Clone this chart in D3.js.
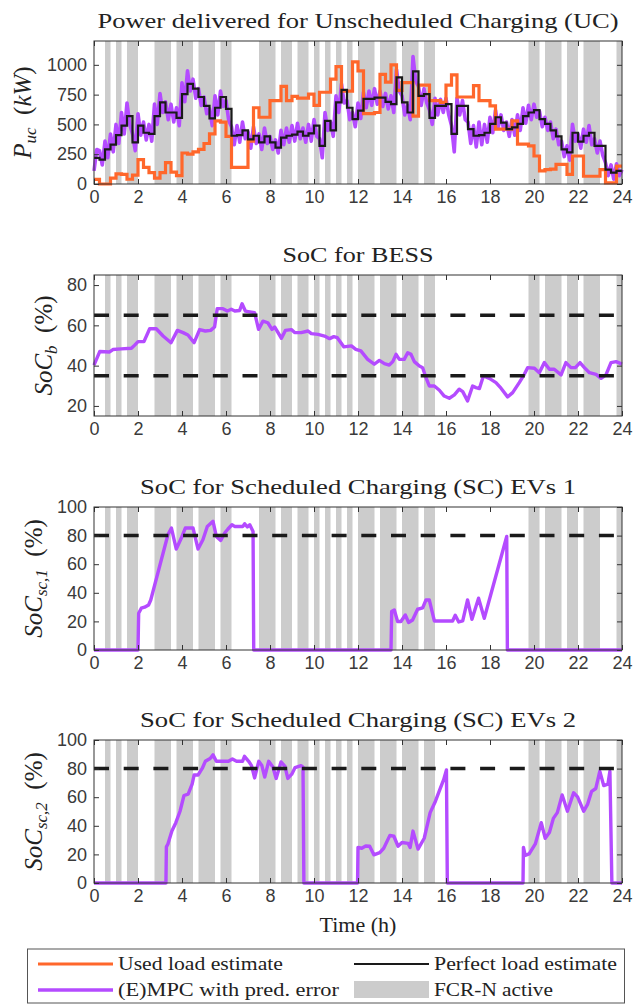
<!DOCTYPE html>
<html>
<head>
<meta charset="utf-8">
<script src="https://cdn.jsdelivr.net/npm/d3@7"></script>
<style>
  body { margin: 0; background: #fff; }
  svg { display: block; }
  .tick text { font-family: "Liberation Sans", Arial, sans-serif; font-size: 18px; fill: #3a3a3a; }
  .serif { font-family: "Liberation Serif", "DejaVu Serif", serif; fill: #222; }
</style>
</head>
<body>
<svg id="chart" width="634" height="1005"></svg>
<script>
// FCR-N active windows (hours)
const fcrBands = [
  [0.5, 0.75], [1.0, 1.25], [1.5, 2.0], [2.75, 3.5], [3.75, 4.5], [4.75, 5.5], [5.75, 6.25],
  [7.5, 8.25], [8.5, 9.0], [9.25, 9.75], [10.0, 10.25], [10.5, 10.75], [11.0, 11.25], [11.5, 11.75],
  [12.0, 12.75], [13.0, 13.75], [14.0, 14.75], [15.0, 15.5],
  [19.75, 20.25], [20.5, 21.25], [21.5, 22.0], [22.25, 23.0], [23.75, 24]
];

const xTicks = [0, 2, 4, 6, 8, 10, 12, 14, 16, 18, 20, 22, 24];

// UC power, one value per quarter hour (kW)
const perfectLoad = [
  220, 205, 290, 330, 410, 490, 570, 350, 490, 430, 420, 570, 685, 600, 600, 555,
  755, 840, 800, 730, 655, 550, 640, 730, 630, 405, 410, 450, 375, 405, 350, 400,
  350, 305, 390, 405, 415, 440, 405, 425, 490, 320, 530, 450, 685, 790, 640, 545,
  615, 715, 715, 725, 725, 690, 670, 895, 685, 600, 945, 740, 755, 555, 655, 655,
  670, 420, 655, 655, 460, 405, 410, 430, 505, 560, 515, 460, 475, 505, 570, 600,
  620, 545, 505, 450, 400, 290, 265, 430, 355, 405, 430, 320, 320, 120, 95, 110
];
const usedLoad = [
  38, 0, 0, 50, 85, 80, 40, 75, 205, 140, 95, 50, 95, 180, 100, 70,
  260, 250, 270, 290, 340, 420, 530, 520, 400, 140, 140, 140, 360, 640, 560, 560,
  700, 700, 820, 700, 735, 720, 720, 755, 660, 770, 770, 880, 985, 780, 780, 1025,
  950, 590, 590, 600, 920, 855, 1000, 785, 850, 850, 570, 830, 830, 700, 700, 685,
  830, 915, 730, 730, 730, 825, 700, 700, 655, 460, 460, 460, 530, 335, 335, 320,
  235, 110, 120, 125, 165, 165, 80, 235, 235, 65, 65, 65, 120, 10, 10, 150
];
// (E)MPC with prediction error, every 7.5 min
const mpcPower = [
  110, 290, 280, 160, 360, 220, 420, 270, 500, 340, 600, 420, 680, 500, 420, 280,
  590, 410, 520, 370, 500, 360, 670, 500, 760, 600, 690, 540, 670, 520, 640, 490,
  850, 690, 950, 780, 880, 720, 800, 660, 730, 590, 630, 490, 740, 580, 780, 650,
  700, 530, 480, 330, 490, 350, 520, 380, 440, 300, 480, 340, 420, 290, 470, 340,
  400, 290, 370, 260, 450, 330, 470, 350, 490, 360, 510, 380, 470, 350, 500, 360,
  540, 400, 380, 220, 600, 450, 520, 400, 740, 600, 840, 680, 700, 540, 600, 480,
  680, 550, 770, 640, 780, 660, 800, 670, 780, 650, 760, 630, 740, 600, 960, 780,
  740, 580, 660, 540, 1070, 860, 820, 660, 800, 680, 620, 500, 720, 580, 710, 600,
  720, 580, 490, 270, 720, 580, 700, 540, 520, 340, 490, 310, 520, 330, 500, 350,
  560, 430, 620, 480, 580, 450, 520, 400, 540, 410, 580, 450, 640, 510, 660, 540,
  670, 560, 610, 480, 560, 450, 520, 380, 460, 330, 360, 230, 320, 200, 500, 360,
  420, 300, 460, 350, 490, 330, 380, 260, 360, 240, 180, 70, 160, 40, 170, 70,
  120
];

// BESS state of charge (%)
const bessTime = [0, 0.26, 0.71, 0.86, 1.24, 1.7, 1.85, 2.0, 2.27, 2.53, 2.83, 3.14, 3.5, 3.79, 4.05, 4.27,
  4.55, 4.8, 5.06, 5.3, 5.48, 5.6, 5.86, 6.06, 6.24, 6.4, 6.62, 6.73, 6.88, 7.15, 7.3, 7.48, 7.68,
  7.9, 8.09, 8.21, 8.52, 8.7, 8.97, 9.12, 9.42, 9.73, 9.88, 10.18, 10.48, 10.71, 10.9, 11.06, 11.36,
  11.7, 11.9, 12.13, 12.44, 12.74, 12.97, 13.2, 13.42, 13.58, 13.73, 13.88, 14.1, 14.26, 14.41, 14.56,
  14.79, 14.94, 15.09, 15.24, 15.47, 15.7, 15.92, 16.15, 16.38, 16.6, 16.76, 16.98, 17.21, 17.36,
  17.52, 17.7, 17.97, 18.27, 18.5, 18.8, 19.03, 19.33, 19.56, 19.71, 20.02, 20.24, 20.47, 20.7,
  20.92, 21.23, 21.45, 21.68, 21.88, 22.09, 22.29, 22.52, 22.82, 23.05, 23.27, 23.5, 23.73, 23.95, 24];
const bessSoc = [40.3, 47, 46.8, 48, 48.3, 48.6, 50.2, 51.9, 51.9, 58.3, 58.3, 54.7, 51.4, 57.5, 56.4, 55.2,
  51.4, 57.9, 57.2, 57.5, 59.2, 68.3, 68.3, 67.1, 68, 67.1, 67.4, 70.7, 67.1, 66.6, 66.3, 58, 62.1,
  61.3, 58, 59.2, 53.6, 57.5, 57.9, 56.4, 56.4, 57.2, 55.9, 55.5, 54.7, 53.4, 54.4, 53.9, 49.3,
  49.8, 48.1, 47.3, 43.1, 40.7, 42.6, 41, 40.3, 42, 45.6, 43.1, 43.1, 46.4, 45.6, 42,
  39.8, 39, 34, 29.9, 29.9, 27.8, 24.9, 23.8, 25.5, 28.3, 27.1, 22.5, 29.9, 29.1,
  28.6, 34.9, 33.7, 31.6, 28.8, 24.5, 26.6, 31.6, 35.7, 39, 38.7, 36.5, 41.5, 38.2,
  38.2, 35.4, 41.5, 39, 39, 41.5, 39, 36.5, 35.7, 33.7, 35.4, 41.5, 42, 41, 40.8];

// Scheduled charging EV group 1 (%)
const ev1Time = [0, 2.0, 2.03, 2.15, 2.3, 2.48, 2.58, 3.36, 3.52, 3.74, 3.97, 4.15, 4.5, 4.73, 4.95, 5.15,
  5.41, 5.56, 5.76, 5.94, 6.09, 6.27, 6.39, 6.77, 6.85, 6.97, 7.08, 7.23, 7.26, 13.5, 13.53, 13.65,
  13.8, 13.95, 14.15, 14.3, 14.48, 14.71, 14.94, 15.09, 15.24, 15.47, 16.3, 16.42, 16.58, 16.76,
  16.98, 17.18, 17.48, 17.74, 18.76, 18.79, 24];
const ev1Soc = [0, 0, 25.7, 29.2, 29.9, 31.5, 35, 80.6, 85.3, 70.6, 78.3, 85.3, 85.3, 70.6, 77.1, 86.4,
  90, 79.4, 76.6, 81.8, 84.6, 87.6, 86.4, 86.4, 88.3, 86, 87.6, 82.9, 0, 0, 26.9, 28,
  19.9, 19.9, 24.5, 19.2, 21, 28.5, 29.4, 35, 35, 20.3, 20.3, 24.3, 19.6, 20.3,
  35, 21.5, 36.2, 22.2, 79.4, 0, 0];

// Scheduled charging EV group 2 (%)
const ev2Time = [0, 3.27, 3.29, 3.36, 3.54, 3.72, 3.91, 4.09, 4.28, 4.46, 4.55, 4.73, 4.92, 5.06, 5.28, 5.41,
  5.56, 6.11, 6.29, 6.48, 6.75, 6.84, 7.03, 7.16, 7.3, 7.49, 7.63, 7.76, 7.94, 8.13, 8.28, 8.5,
  8.68, 8.81, 8.99, 9.14, 9.41, 9.5, 9.54, 11.98, 12.0, 12.17, 12.35, 12.53, 12.72, 12.99, 13.17,
  13.45, 13.63, 13.82, 14.0, 14.28, 14.37, 14.5, 14.73, 15.01, 15.28, 15.52, 15.74, 15.89, 16.02,
  16.06, 19.5, 19.52, 19.6, 19.78, 20.06, 20.33, 20.51, 20.7, 20.88, 21.06, 21.28, 21.52, 21.8,
  21.98, 22.26, 22.44, 22.62, 22.81, 22.99, 23.17, 23.36, 23.45, 23.54, 24];
const ev2Soc = [0, 0, 25.3, 27.3, 36.3, 42.2, 50.2, 61.2, 62.2, 69.1, 75.5, 75.5, 80.1, 85.1, 87.1, 89.6,
  85.1, 85.1, 86.7, 85.1, 85.1, 88.6, 85.1, 82.1, 73.5, 85.1, 82.1, 74.1, 85.1, 81.1, 73.1, 84.7,
  81.5, 73.1, 76.1, 80.7, 82.1, 81.1, 0, 0, 24.9, 24.3, 25.9, 25.7, 19.7, 21.3, 24.3,
  33.3, 32.7, 25.7, 28.3, 27.7, 24.9, 36.3, 23.7, 31.3, 49.2, 57.2, 66.1, 72.1, 79.1,
  0, 0, 24.9, 19.3, 20.3, 27.3, 42.2, 31.3, 35.3, 45.2, 49.2, 61.6, 50.2, 63.1,
  60.2, 50.2, 55.2, 64.1, 66.1, 78.1, 68.1, 69.1, 78.1, 0, 0];

const ORANGE = '#ff672b';
const PURPLE = '#b44bff';
const BLACK = '#1a1a1a';
const GRAY = '#cccccc';

const svg = d3.select('#chart');
const plotLeft = 94, plotRight = 622;
const x = d3.scaleLinear().domain([0, 24]).range([plotLeft, plotRight]);

const quarterHours = d3.range(0, 24.001, 0.25);
const eighthHours = d3.range(0, 24.001, 0.125);

const panels = [
  { top: 41, bottom: 184, domain: [0, 1200], ticks: [0, 250, 500, 750, 1000],
    title: 'Power delivered for Unscheduled Charging (UC)', titleW: 521, labelX: 31,
    label: [['P', 'i'], ['uc', 'sub'], ['\u2002(', 'n'], ['kW', 'i'], [')', 'n']] },
  { top: 275, bottom: 416, domain: [15, 85], ticks: [20, 40, 60, 80],
    title: 'SoC for BESS', titleW: 151, labelX: 52,
    label: [['SoC', 'i'], ['b', 'sub'], ['\u2002(%)', 'n']], limits: [65, 35] },
  { top: 507, bottom: 650, domain: [0, 100], ticks: [0, 20, 40, 60, 80, 100],
    title: 'SoC for Scheduled Charging (SC) EVs 1', titleW: 436, labelX: 42,
    label: [['SoC', 'i'], ['sc,1', 'sub'], ['\u2002(%)', 'n']], limits: [80] },
  { top: 740, bottom: 883, domain: [0, 100], ticks: [0, 20, 40, 60, 80, 100],
    title: 'SoC for Scheduled Charging (SC) EVs 2', titleW: 436, labelX: 42,
    label: [['SoC', 'i'], ['sc,2', 'sub'], ['\u2002(%)', 'n']], limits: [80] }
];

function drawPanel(p) {
  const y = d3.scaleLinear().domain(p.domain).range([p.bottom, p.top]);
  const g = svg.append('g');

  // gray FCR-N windows
  g.selectAll('.band').data(fcrBands).enter().append('rect')
    .attr('x', d => x(d[0]))
    .attr('width', d => x(d[1]) - x(d[0]))
    .attr('y', p.top)
    .attr('height', p.bottom - p.top)
    .attr('fill', GRAY);

  p.y = y;
  p.g = g;
  return p;
}

function drawFrame(p) {
  const g = p.g, y = p.y;
  const xb = g.append('g').attr('transform', `translate(0,${p.bottom})`)
    .call(d3.axisBottom(x).tickValues(xTicks).tickSizeInner(-5).tickSizeOuter(0).tickPadding(6));
  const xt = g.append('g').attr('transform', `translate(0,${p.top})`)
    .call(d3.axisTop(x).tickValues(xTicks).tickSizeInner(-5).tickSizeOuter(0).tickFormat(''));
  const yl = g.append('g').attr('transform', `translate(${plotLeft},0)`)
    .call(d3.axisLeft(y).tickValues(p.ticks).tickFormat(d3.format('d'))
      .tickSizeInner(-5).tickSizeOuter(0).tickPadding(7));
  const yr = g.append('g').attr('transform', `translate(${plotRight},0)`)
    .call(d3.axisRight(y).tickValues(p.ticks).tickSizeInner(-5).tickSizeOuter(0).tickFormat(''));
  [xb, xt, yl, yr].forEach(a => {
    a.select('.domain').remove();
    a.selectAll('.tick line').attr('stroke', '#333');
  });

  g.append('rect')
    .attr('x', plotLeft).attr('y', p.top)
    .attr('width', plotRight - plotLeft).attr('height', p.bottom - p.top)
    .attr('fill', 'none').attr('stroke', '#333').attr('stroke-width', 1);

  // title
  g.append('text').attr('class', 'serif')
    .attr('x', (plotLeft + plotRight) / 2).attr('y', p.top - 13)
    .attr('text-anchor', 'middle')
    .attr('font-size', 22)
    .attr('textLength', p.titleW).attr('lengthAdjust', 'spacingAndGlyphs')
    .text(p.title);

  // y label (rotated)
  const lab = g.append('text').attr('class', 'serif')
    .attr('transform', `translate(${p.labelX},${(p.top + p.bottom) / 2}) rotate(-90)`)
    .attr('text-anchor', 'middle')
    .attr('font-size', 25);
  let shifted = false;
  p.label.forEach(([txt, kind]) => {
    const t = lab.append('tspan').text(txt);
    if (kind === 'sub') {
      t.attr('font-style', 'italic').attr('font-size', 17).attr('dy', 5);
      shifted = true;
    } else {
      if (kind === 'i') t.attr('font-style', 'italic');
      if (shifted) { t.attr('dy', -5); shifted = false; }
    }
  });
}

function limitLines(p) {
  (p.limits || []).forEach(v => {
    p.g.append('line')
      .attr('x1', x(0)).attr('x2', x(24))
      .attr('y1', p.y(v)).attr('y2', p.y(v))
      .attr('stroke', BLACK).attr('stroke-width', 3.5)
      .attr('stroke-dasharray', '15,14.7');
  });
}

panels.forEach(drawPanel);

// --- panel 1: UC power
const p1 = panels[0];
const stepLine = d3.line().x(d => x(d[0])).y(d => p1.y(d[1])).curve(d3.curveStepAfter);
const smoothLine = d3.line().x(d => x(d[0])).y(d => p1.y(d[1]));

const mpcPts = eighthHours.map((t, i) => [t, mpcPower[i]]);
const usedPts = quarterHours.map((t, i) => [t, usedLoad[Math.min(i, usedLoad.length - 1)]]);
const perfPts = quarterHours.map((t, i) => [t, perfectLoad[Math.min(i, perfectLoad.length - 1)]]);

p1.g.append('path').attr('d', smoothLine(mpcPts))
  .attr('fill', 'none').attr('stroke', PURPLE).attr('stroke-width', 3.6).attr('stroke-linejoin', 'round');
p1.g.append('path').attr('d', stepLine(usedPts))
  .attr('fill', 'none').attr('stroke', ORANGE).attr('stroke-width', 3.2);
p1.g.append('path').attr('d', stepLine(perfPts))
  .attr('fill', 'none').attr('stroke', BLACK).attr('stroke-width', 2.2);

// --- panels 2-4: SoC curves
function socCurve(p, times, vals) {
  const line = d3.line().x(d => x(d[0])).y(d => p.y(d[1]));
  p.g.append('path').attr('d', line(times.map((t, i) => [t, vals[i]])))
    .attr('fill', 'none').attr('stroke', PURPLE).attr('stroke-width', 3.4)
    .attr('stroke-linejoin', 'round');
}
socCurve(panels[1], bessTime, bessSoc);
socCurve(panels[2], ev1Time, ev1Soc);
socCurve(panels[3], ev2Time, ev2Soc);

panels.forEach(limitLines);
panels.forEach(drawFrame);

// x label
svg.append('text').attr('class', 'serif')
  .attr('x', (plotLeft + plotRight) / 2).attr('y', 932)
  .attr('text-anchor', 'middle').attr('font-size', 22)
  .text('Time (h)');

// legend
const legend = svg.append('g');
legend.append('rect')
  .attr('x', 27.5).attr('y', 949).attr('width', 597).attr('height', 54)
  .attr('fill', '#fff').attr('stroke', '#555').attr('stroke-width', 1);

const legendItems = [
  { label: 'Used load estimate', color: ORANGE, width: 3.2, kind: 'line', x: 38, y: 964, tw: 165 },
  { label: 'Perfect load estimate', color: BLACK, width: 2.2, kind: 'line', x: 354, y: 964, tw: 183 },
  { label: '(E)MPC with pred. error', color: PURPLE, width: 3.4, kind: 'line', x: 38, y: 990, tw: 221 },
  { label: 'FCR-N active', color: GRAY, kind: 'patch', x: 354, y: 990, tw: 119 }
];
legendItems.forEach(it => {
  if (it.kind === 'line') {
    legend.append('line')
      .attr('x1', it.x).attr('x2', it.x + 75).attr('y1', it.y).attr('y2', it.y)
      .attr('stroke', it.color).attr('stroke-width', it.width);
  } else {
    legend.append('rect')
      .attr('x', it.x).attr('y', it.y - 9).attr('width', 75).attr('height', 17)
      .attr('fill', it.color);
  }
  legend.append('text').attr('class', 'serif')
    .attr('x', it.x + 80).attr('y', it.y + 6)
    .attr('font-size', 19)
    .attr('textLength', it.tw).attr('lengthAdjust', 'spacingAndGlyphs')
    .text(it.label);
});
</script>
</body>
</html>
